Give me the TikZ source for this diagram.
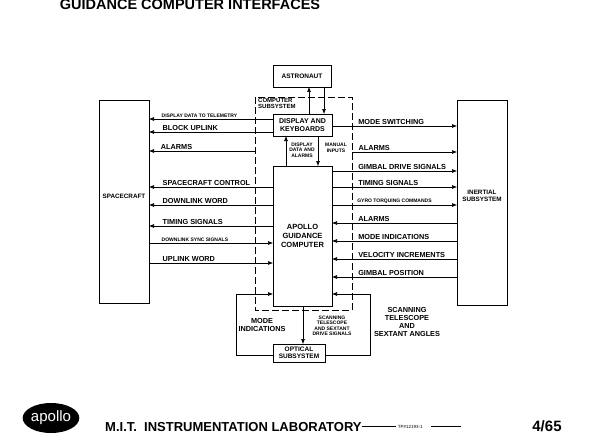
\documentclass[tikz,border=0pt]{standalone}
\usepackage{fontspec}
\setmainfont{Liberation Sans}
\usetikzlibrary{arrows.meta,shapes.geometric}
\begin{document}
\begin{tikzpicture}[x=1pt,y=-1pt,font=\bfseries\fontsize{7.3}{8}\selectfont,
	sig/.style={-{Latex[length=5pt,width=4pt]},semithick},
	lbl/.style={anchor=south west,inner sep=1pt},
	tiny/.style={font=\bfseries\fontsize{5}{5.5}\selectfont,align=center,inner sep=0pt}]
	\useasboundingbox (0,0) rectangle (600,436);

	% blocks
	\draw[thick] (99,100) rectangle (149,303);   \node[font=\bfseries\fontsize{6.3}{7}\selectfont] (sc) at (124,196) {SPACECRAFT};
	\draw[thick] (457,100) rectangle (507,305);  \node[align=center,font=\bfseries\fontsize{6.3}{7.5}\selectfont] (is) at (482,196) {INERTIAL\\SUBSYSTEM};
	\draw[thick] (273,65) rectangle (331,87);    \node[font=\bfseries\fontsize{6.5}{7}\selectfont] (as) at (302,76) {ASTRONAUT};
	\draw[thick] (273,114) rectangle (332,136);  \node[align=center,font=\bfseries\fontsize{7}{8}\selectfont] (dk) at (302.5,125) {DISPLAY AND\\KEYBOARDS};
	\draw[thick] (273,166) rectangle (332,306);  \node[align=center,font=\bfseries\fontsize{7.5}{9}\selectfont] (agc) at (302.5,236) {APOLLO\\GUIDANCE\\COMPUTER};
	\draw[thick] (273,344) rectangle (325,362);  \node[align=center,font=\bfseries\fontsize{6.5}{7.5}\selectfont] (os) at (299,353) {OPTICAL\\SUBSYSTEM};
	\draw[thick,dash pattern=on 7pt off 3pt] (255,97) rectangle (352,310);
	\node[anchor=north west,align=left,inner sep=0pt,font=\bfseries\fontsize{6}{6}\selectfont] (cs) at (258,98.5) {COMPUTER\\SUBSYSTEM};

	% to spacecraft
	\draw[sig] (273,119) -- (149,119) node[lbl,pos=.9,tiny,anchor=south west,yshift=1pt] {DISPLAY DATA TO TELEMETRY};
	\draw[sig] (273,132) -- (149,132) node[lbl,pos=.9] {BLOCK UPLINK};
	\draw[sig] (255,151) -- (149,151) node[lbl,pos=.9] {ALARMS};
	\draw[sig] (273,187) -- (149,187) node[lbl,pos=.9] {SPACECRAFT CONTROL};
	\draw[sig] (273,205) -- (149,205) node[lbl,pos=.9] {DOWNLINK WORD};
	\draw[sig] (273,226) -- (149,226) node[lbl,pos=.9] {TIMING SIGNALS};
	\draw[sig] (149,243) -- (273,243) node[lbl,pos=.1,tiny,yshift=1.5pt] {DOWNLINK SYNC SIGNALS};
	\draw[sig] (149,263) -- (273,263) node[lbl,pos=.1] {UPLINK WORD};

	% astronaut and keyboards
	\draw[sig] (309,114) -- (309,87);
	\draw[sig] (324,87) -- (324,114);
	\draw[sig] (286,166) -- (286,136);
	\draw[sig] (318,136) -- (318,166);
	\node[tiny] at (302,150) {DISPLAY\\DATA AND\\ALARMS};
	\node[tiny] at (336,148) {MANUAL\\INPUTS};

	% to inertial
	\draw[sig] (332,126) -- (457,126) node[lbl,pos=.2] {MODE SWITCHING};
	\draw[sig] (352,152) -- (457,152) node[lbl,pos=.05] {ALARMS};
	\draw[sig] (332,171) -- (457,171) node[lbl,pos=.2] {GIMBAL DRIVE SIGNALS};
	\draw[sig] (332,187) -- (457,187) node[lbl,pos=.2] {TIMING SIGNALS};
	\draw[sig] (332,205) -- (457,205) node[lbl,pos=.2,tiny,yshift=1.5pt] {GYRO TORQUING COMMANDS};
	\draw[sig] (457,223) -- (332,223) node[lbl,pos=.8] {ALARMS};
	\draw[sig] (457,241) -- (332,241) node[lbl,pos=.8] {MODE INDICATIONS};
	\draw[sig] (457,259) -- (332,259) node[lbl,pos=.8] {VELOCITY INCREMENTS};
	\draw[sig] (457,277) -- (332,277) node[lbl,pos=.8] {GIMBAL POSITION};

	% optical
	\draw[sig] (273,355) -- (236,355) -- (236,294) -- (273,294);
	\draw[sig] (325,355) -- (370,355) -- (370,294) -- (332,294);
	\draw[sig] (303,306) -- (303,344);
	\node[align=center] at (262,325) {MODE\\INDICATIONS};
	\node[tiny] at (332,326) {SCANNING\\TELESCOPE\\AND SEXTANT\\DRIVE SIGNALS};
	\node[align=center] at (407,322) {SCANNING\\TELESCOPE\\AND\\SEXTANT ANGLES};

	% title and footer
	\node[font=\bfseries\fontsize{14.5}{15}\selectfont,anchor=base,inner sep=0pt] (ti) at (190,10) {GUIDANCE COMPUTER INTERFACES};
	\node[ellipse,fill=black,minimum width=56pt,minimum height=30pt,inner sep=0pt,text=white,font=\fontsize{15}{15}\selectfont] (ap) at (51,418) {apollo};
	\node[anchor=base west,font=\bfseries\fontsize{13}{13}\selectfont,inner sep=0pt] (mit) at (105,431) {M.I.T.\ \ INSTRUMENTATION LABORATORY};
	\draw[line width=1.5pt] (mit.east) -- ++(34,0) coordinate (t1);
	\node[anchor=west,font=\fontsize{4.5}{5}\selectfont,inner sep=2pt] (tp) at (t1) {TP\#12193-1};
	\draw[line width=1.5pt] (tp.east) ++(6,0) -- ++(30,0);
	\node[anchor=base,font=\bfseries\fontsize{15}{15}\selectfont] (dt) at (547,431) {4/65};
\end{tikzpicture}
\end{document}
